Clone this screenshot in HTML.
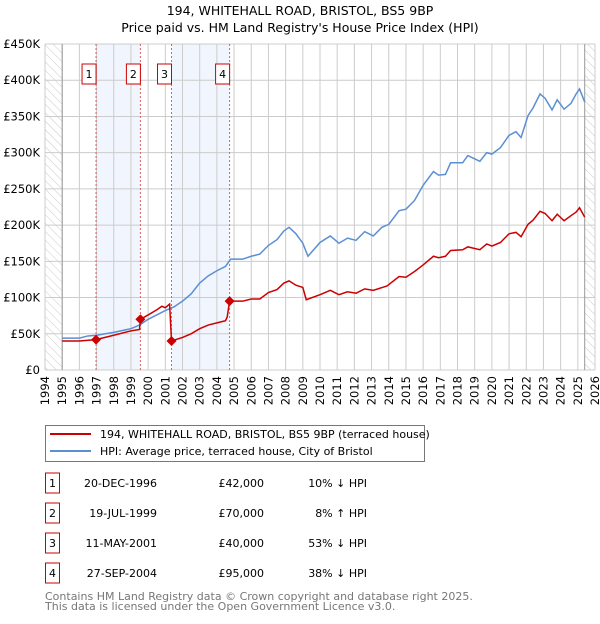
<!DOCTYPE html>
<html><head><meta charset="utf-8"><style>
body{margin:0;background:#fff;font-family:"DejaVu Sans","Liberation Sans",sans-serif;}
svg text{font-family:"DejaVu Sans","Liberation Sans",sans-serif;}
</style></head><body>
<svg id="chart" width="600" height="620" viewBox="0 0 600 620">
<defs><pattern id="hatch" width="6" height="6" patternUnits="userSpaceOnUse" patternTransform="rotate(-45)"><line x1="0" y1="0" x2="0" y2="6" stroke="#bbb" stroke-width="0.8"/></pattern></defs>
<text x="300" y="15" text-anchor="middle" font-size="12.5">194, WHITEHALL ROAD, BRISTOL, BS5 9BP</text>
<text x="300" y="32" text-anchor="middle" font-size="12.5">Price paid vs. HM Land Registry's House Price Index (HPI)</text>
<g id="plot"></g>
<g>
<rect x="45.5" y="425.5" width="379" height="36" fill="#fff" stroke="#777"/>
<line x1="50" y1="434" x2="91" y2="434" stroke="#cc0000" stroke-width="2"/>
<text x="100" y="438" font-size="11">194, WHITEHALL ROAD, BRISTOL, BS5 9BP (terraced house)</text>
<line x1="50" y1="451" x2="91" y2="451" stroke="#5b8fd4" stroke-width="2"/>
<text x="100" y="455" font-size="11">HPI: Average price, terraced house, City of Bristol</text>
</g>
<g id="table" font-size="11"></g>
<text x="45" y="600" font-size="11" fill="#777">Contains HM Land Registry data © Crown copyright and database right 2025.</text>
<text x="45" y="610" font-size="11" fill="#777">This data is licensed under the Open Government Licence v3.0.</text>
</svg>
<script>
const yTicks=[0,50,100,150,200,250,300,350,400,450];
const yTickLabels=["£0","£50K","£100K","£150K","£200K","£250K","£300K","£350K","£400K","£450K"];
const years=[1994,1995,1996,1997,1998,1999,2000,2001,2002,2003,2004,2005,2006,2007,2008,2009,2010,2011,2012,2013,2014,2015,2016,2017,2018,2019,2020,2021,2022,2023,2024,2025,2026];
const hpiT=[1995,1996,1996.5,1997,1998,1999,1999.5,2000,2000.5,2001,2001.5,2002,2002.5,2003,2003.5,2004,2004.5,2004.8,2005.5,2006,2006.5,2007,2007.5,2007.9,2008.2,2008.6,2009.0,2009.3,2010.0,2010.6,2011.1,2011.6,2012.1,2012.6,2013.1,2013.6,2014.0,2014.6,2015.0,2015.5,2016.0,2016.6,2016.9,2017.3,2017.6,2018.3,2018.6,2019.3,2019.7,2020.0,2020.5,2021.0,2021.4,2021.7,2022.1,2022.4,2022.8,2023.1,2023.5,2023.8,2024.2,2024.6,2024.9,2025.1,2025.4];
const hpiV=[44,44,47,48,52,57,62,70,76,82,87,95,105,120,130,137,143,153,153,157,160,172,180,192,197,188,175,157,176,185,175,182,179,191,185,197,201,220,222,234,255,274,269,270,286,286,296,288,300,298,307,324,329,321,351,362,381,375,359,373,360,368,381,388,370];
const redT=[1995,1996,1996.97,1998,1999,1999.5,1999.55,2000,2000.5,2000.8,2001.0,2001.25,2001.36,2002,2002.5,2003,2003.5,2004,2004.5,2004.6,2004.74,2005.5,2006,2006.5,2007,2007.5,2007.9,2008.2,2008.6,2009.0,2009.2,2010.0,2010.6,2011.1,2011.6,2012.1,2012.6,2013.1,2013.9,2014.6,2015.0,2015.5,2016.0,2016.6,2016.9,2017.3,2017.6,2018.3,2018.6,2019.3,2019.7,2020.0,2020.5,2021.0,2021.4,2021.7,2022.1,2022.4,2022.8,2023.1,2023.5,2023.8,2024.2,2024.6,2024.9,2025.1,2025.4];
const redV=[40,40,42,48,54,56,70,76,83,88,86,91,40,45,50,57,62,65,68,73,95,95,98,98,107,111,120,123,117,114,97,104,110,104,108,106,112,110,116,129,128,136,145,157,155,157,165,166,170,166,174,171,176,188,190,184,201,207,219,216,206,215,206,213,218,224,211];
const saleT=[1996.97,1999.55,2001.36,2004.74];
const saleV=[42,70,40,95];
const saleLabels=["1","2","3","4"];
const saleDates=["20-DEC-1996","19-JUL-1999","11-MAY-2001","27-SEP-2004"];
const salePrices=["£42,000","£70,000","£40,000","£95,000"];
const saleDiffs=["10% ↓ HPI","8% ↑ HPI","53% ↓ HPI","38% ↓ HPI"];
const X0=45,X1=595,Y0=370,Y1=44,ns="http://www.w3.org/2000/svg";
const xs=t=>X0+(t-1994)/32*(X1-X0);
const ys=v=>Y0-v/450*(Y0-Y1);
const plot=document.getElementById('plot');
function mk(tag,a,p){const e=document.createElementNS(ns,tag);for(const k in a)e.setAttribute(k,a[k]);(p||plot).appendChild(e);return e;}
let e;
e=mk('rect',{x:X0,y:Y1,width:X1-X0,height:Y0-Y1,fill:'#fff'});


for(let i=0;i<2;i++){e=mk('rect',{x:xs(saleT[i*2]),y:Y1,width:xs(saleT[i*2+1])-xs(saleT[i*2]),height:Y0-Y1,fill:'#eef3fc',opacity:0.8});

}
e=mk('rect',{x:X0,y:Y1,width:xs(1995)-X0,height:Y0-Y1,fill:'url(#hatch)'});


e=mk('rect',{x:xs(2025.4),y:Y1,width:X1-xs(2025.4),height:Y0-Y1,fill:'url(#hatch)'});


years.forEach(y=>{e=mk('line',{x1:xs(y),x2:xs(y),y1:Y1,y2:Y0,stroke:'#ccc','stroke-width':1});


e=mk('text',{x:0,y:0,'font-size':11.5,'text-anchor':'end',transform:`translate(${xs(y)+4},${Y0+6}) rotate(-90)`});e.textContent=y;

});
yTicks.forEach((v,i)=>{e=mk('line',{x1:X0,x2:X1,y1:ys(v),y2:ys(v),stroke:'#ccc','stroke-width':1});


e=mk('text',{x:40,y:ys(v)+4,'font-size':11.5,'text-anchor':'end'});e.textContent=yTickLabels[i];

});
e=mk('line',{x1:xs(1995),x2:xs(1995),y1:Y1,y2:Y0,stroke:'#999'});


e=mk('line',{x1:xs(2025.4),x2:xs(2025.4),y1:Y1,y2:Y0,stroke:'#999'});


saleT.forEach((t,i)=>{e=mk('line',{x1:xs(t),x2:xs(t),y1:Y1,y2:Y0,stroke:'#e06060','stroke-dasharray':'2,2'});


e=mk('rect',{x:xs(t)-14,y:64,width:14,height:20,fill:'#fff',stroke:'#cc0000'});


e=mk('text',{x:xs(t)-7,y:78,'font-size':11,'text-anchor':'middle'});e.textContent=saleLabels[i];

});
e=mk('polyline',{points:hpiT.map((t,i)=>xs(t)+','+ys(hpiV[i])).join(' '),fill:'none',stroke:'#5b8fd4','stroke-width':1.5});


e=mk('polyline',{points:redT.map((t,i)=>xs(t)+','+ys(redV[i])).join(' '),fill:'none',stroke:'#cc0000','stroke-width':1.5});


saleT.forEach((t,i)=>{const cx=xs(t),cy=ys(saleV[i]);e=mk('polygon',{points:`${cx},${cy-5} ${cx+5},${cy} ${cx},${cy+5} ${cx-5},${cy}`,fill:'#cc0000'});

});
const tb=document.getElementById('table');
saleT.forEach((t,i)=>{const cy=483+i*30;
e=mk('rect',{x:45.5,y:cy-10,width:14,height:20,fill:'#fff',stroke:'#cc0000'},tb);


e=mk('text',{x:52.5,y:cy+4,'text-anchor':'middle'},tb);e.textContent=saleLabels[i];


e=mk('text',{x:157,y:cy+4,'text-anchor':'end'},tb);e.textContent=saleDates[i];


e=mk('text',{x:264,y:cy+4,'text-anchor':'end'},tb);e.textContent=salePrices[i];


e=mk('text',{x:367,y:cy+4,'text-anchor':'end'},tb);e.textContent=saleDiffs[i];

});
</script>
</body></html>
